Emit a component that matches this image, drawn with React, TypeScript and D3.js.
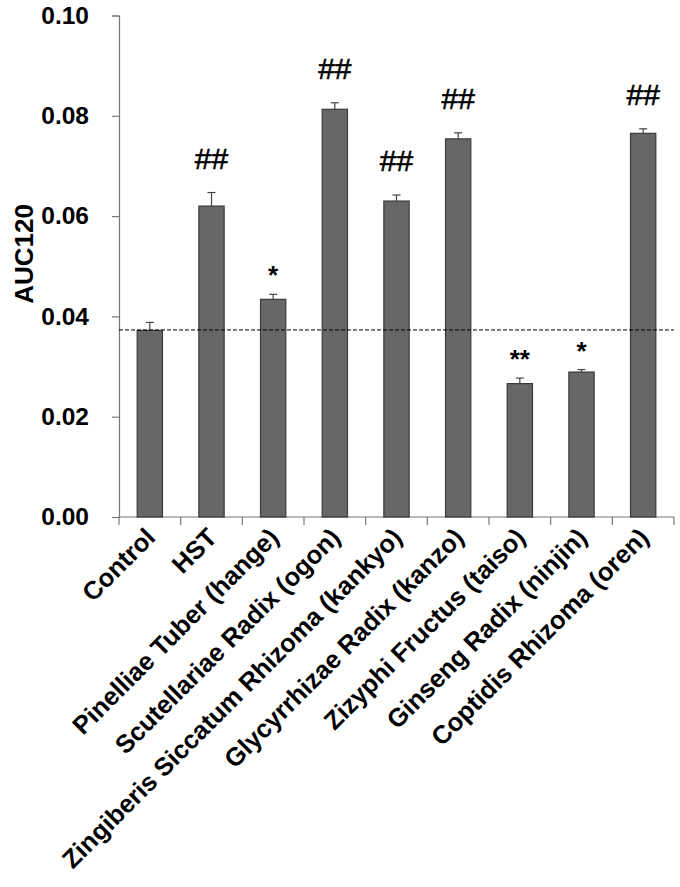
import { scaleBand, scaleLinear, select, axisLeft } from 'd3';
import { useRef, useEffect } from 'react';

const categories = [
  'Control',
  'HST',
  'Pinelliae Tuber (hange)',
  'Scutellariae Radix (ogon)',
  'Zingiberis Siccatum Rhizoma (kankyo)',
  'Glycyrrhizae Radix (kanzo)',
  'Zizyphi Fructus (taiso)',
  'Ginseng Radix (ninjin)',
  'Coptidis Rhizoma (oren)',
];
const means = [0.0372, 0.062, 0.0434, 0.0813, 0.063, 0.0754, 0.0266, 0.0289, 0.0765];
const errors = [0.0016, 0.0027, 0.001, 0.0013, 0.0012, 0.0012, 0.0011, 0.0005, 0.0009];
const marks = ['', '##', '*', '##', '##', '##', '**', '*', '##'];
const yTicks = [0, 0.02, 0.04, 0.06, 0.08, 0.1];
const controlLevel = 0.0373;

const FONT = '"Liberation Sans", Arial, sans-serif';

export default function App() {
  const left = 119;
  const right = 674;
  const top = 15.5;
  const bottom = 517;

  const x = scaleBand<string>()
    .domain(categories)
    .range([left, right])
    .paddingInner(0.59)
    .paddingOuter(0.295);

  // band step used for the x tick marks between categories
  const step = (right - left) / categories.length;

  const y = scaleLinear().domain([0, 0.1]).range([bottom, top]);

  return (
    <svg
      width={680}
      height={887}
      style={{ position: 'absolute', left: 0, top: 0, background: '#fff' }}
    >
      <YAxis scale={y} x={left} />
      <text
        transform={`translate(33, 254) rotate(-90)`}
        textAnchor='middle'
        style={{ fontFamily: FONT, fontSize: '26px', fontWeight: 'bold' }}
      >
        AUC120
      </text>

      {/* x axis */}
      <line x1={left} x2={right} y1={bottom} y2={bottom} stroke='#777' strokeWidth={1.2} />
      {categories.map((c, i) => (
        <line
          key={`xt-${c}`}
          x1={left + step * (i + 1)}
          x2={left + step * (i + 1)}
          y1={bottom}
          y2={bottom + 8}
          stroke='#777'
          strokeWidth={1.2}
        />
      ))}
      <line x1={left} x2={left} y1={bottom} y2={bottom + 8} stroke='#777' strokeWidth={1.2} />

      {categories.map((c, i) => {
        const bx = x(c) ?? 0;
        const cx = bx + x.bandwidth() / 2;
        const yTop = y(means[i]);
        const yErr = y(means[i] + errors[i]);
        const hash = marks[i] === '##';
        return (
          <g key={`bar-${c}`}>
            <line x1={cx} x2={cx} y1={yTop} y2={yErr} stroke='#444' strokeWidth={1.2} />
            <line x1={cx - 4} x2={cx + 4} y1={yErr} y2={yErr} stroke='#444' strokeWidth={1.2} />
            <rect
              x={bx}
              y={yTop}
              width={x.bandwidth()}
              height={bottom - yTop}
              fill='#676767'
              stroke='#3a3a3a'
              strokeWidth={1.2}
            />
            {marks[i] && (
              <text
                x={cx}
                y={hash ? yErr - 24 : yErr - 10}
                textAnchor='middle'
                style={{
                  fontFamily: FONT,
                  fontSize: hash ? '30px' : '26px',
                  fontWeight: hash ? 'normal' : 'bold',
                  stroke: hash ? '#000' : 'none',
                  strokeWidth: hash ? 0.6 : 0,
                }}
              >
                {marks[i]}
              </text>
            )}
            <text
              transform={`translate(${cx + 7}, ${bottom + 22}) rotate(-45)`}
              textAnchor='end'
              style={{ fontFamily: FONT, fontSize: '25.5px', fontWeight: 'bold' }}
            >
              {c}
            </text>
          </g>
        );
      })}

      <line
        x1={left}
        x2={right}
        y1={y(controlLevel)}
        y2={y(controlLevel)}
        stroke='#000'
        strokeWidth={1}
        strokeDasharray='4,2'
      />
    </svg>
  );
}

function YAxis({ scale, x }) {
  const ref = useRef(null);

  useEffect(() => {
    if (ref.current) {
      const g = select(ref.current);
      g.call(
        axisLeft(scale)
          .tickValues(yTicks)
          .tickSize(7)
          .tickPadding(23)
          .tickFormat((d) => d.toFixed(2))
      );
      g.select('.domain').attr('stroke', '#777').attr('stroke-width', 1.2);
      g.selectAll('.tick line').attr('stroke', '#777').attr('stroke-width', 1.2);
      g.selectAll('.tick text')
        .attr('fill', '#000')
        .style('font-family', FONT)
        .style('font-size', '24.5px')
        .style('font-weight', 'bold');
    }
  }, [scale]);

  return <g ref={ref} transform={`translate(${x}, 0)`} />;
}
